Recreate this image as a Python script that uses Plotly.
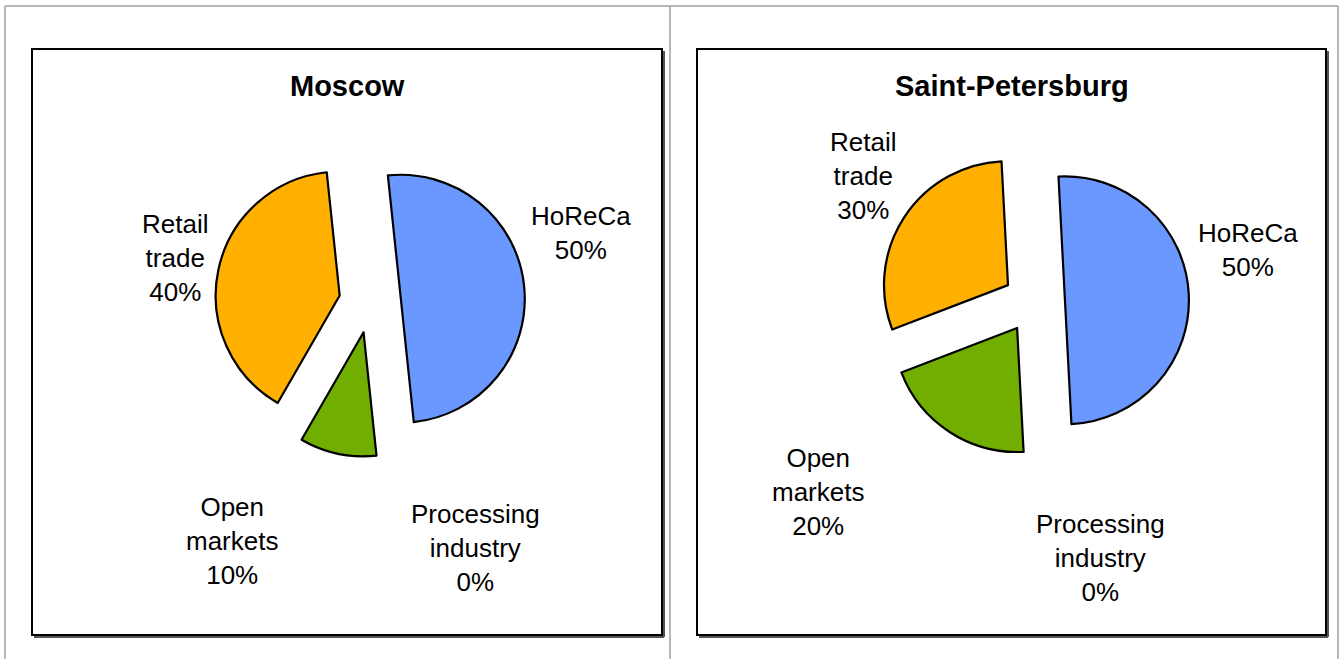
import plotly.graph_objects as go

# ---- data ----
categories = ["HoReCa", "Processing<br>industry", "Open<br>markets", "Retail<br>trade"]
moscow_values = [50, 0, 10, 40]
spb_values = [50, 0, 20, 30]
titles = ["Moscow", "Saint-Petersburg"]
colors = ["#6A98FF", "#8A8A8A", "#72AE00", "#FFB000"]

W, H = 1341, 659

def px_x(x):
    return x / W

def px_y(y):
    return 1 - y / H

fig = go.Figure()

pies = [
    dict(values=moscow_values, cx=370, cy=302, rot=-6),
    dict(values=spb_values, cx=1034, cy=302, rot=-3),
]
half = 155
for p in pies:
    fig.add_trace(go.Pie(
        labels=[c.replace("<br>", " ") for c in categories],
        values=p["values"],
        sort=False,
        direction="clockwise",
        rotation=p["rot"],
        pull=[0.25] * len(categories),
        marker=dict(colors=colors,
                    line=dict(color="black",
                              width=[2.2 if v > 0 else 0 for v in p["values"]])),
        textinfo="none",
        hoverinfo="label+percent",
        showlegend=False,
        domain=dict(x=[px_x(p["cx"] - half), px_x(p["cx"] + half)],
                    y=[px_y(p["cy"] + half), px_y(p["cy"] - half)]),
    ))

# label positions (pixel centres) for each chart, category order
label_pos = [
    [(581, 233), (475, 548), (232, 541), (175, 258)],
    [(1248, 250), (1100, 558), (818, 492), (863, 176)],
]
vals = [moscow_values, spb_values]
annotations = []
for ci in range(2):
    for k, cat in enumerate(categories):
        x, y = label_pos[ci][k]
        annotations.append(dict(
            x=px_x(x), y=px_y(y), xref="paper", yref="paper",
            text=f"{cat}<br>{vals[ci][k]}%", showarrow=False,
            font=dict(family="Liberation Sans, Arial", size=26, color="black"),
            align="center", xanchor="center", yanchor="middle",
        ))

title_pos = [(347, 86), (1012, 86)]
for t, (x, y) in zip(titles, title_pos):
    annotations.append(dict(
        x=px_x(x), y=px_y(y), xref="paper", yref="paper",
        text=f"<b>{t}</b>", showarrow=False,
        font=dict(family="Liberation Sans, Arial", size=29, color="black"),
        xanchor="center", yanchor="middle",
    ))

shapes = []
gray = "#A0A0A0"
# outer table lines
for (x0, y0, x1, y1) in [(5, 6, 1338, 6), (5, 6, 5, 659), (670, 6, 670, 659), (1338, 6, 1338, 659)]:
    shapes.append(dict(type="line", xref="paper", yref="paper",
                       x0=px_x(x0), y0=px_y(y0), x1=px_x(x1), y1=px_y(y1),
                       line=dict(color=gray, width=1.5)))
# chart frames with shadow
for (x0, x1) in [(32, 662), (697, 1326)]:
    y0, y1 = 49, 635
    shapes.append(dict(type="line", xref="paper", yref="paper",
                       x0=px_x(x0 + 2), y0=px_y(y1 + 2), x1=px_x(x1 + 2), y1=px_y(y1 + 2),
                       line=dict(color="#555555", width=2)))
    shapes.append(dict(type="line", xref="paper", yref="paper",
                       x0=px_x(x1 + 2), y0=px_y(y0 + 2), x1=px_x(x1 + 2), y1=px_y(y1 + 2),
                       line=dict(color="#555555", width=2)))
    shapes.append(dict(type="rect", xref="paper", yref="paper",
                       x0=px_x(x0), y0=px_y(y1), x1=px_x(x1), y1=px_y(y0),
                       line=dict(color="black", width=2)))

fig.update_layout(
    width=W, height=H,
    margin=dict(l=0, r=0, t=0, b=0),
    paper_bgcolor="white", plot_bgcolor="white",
    annotations=annotations, shapes=shapes,
    showlegend=False,
)

fig.write_html("out.html",
               config={"displayModeBar": False},
               post_script="document.body.style.margin='0px';document.body.style.overflow='hidden';")
